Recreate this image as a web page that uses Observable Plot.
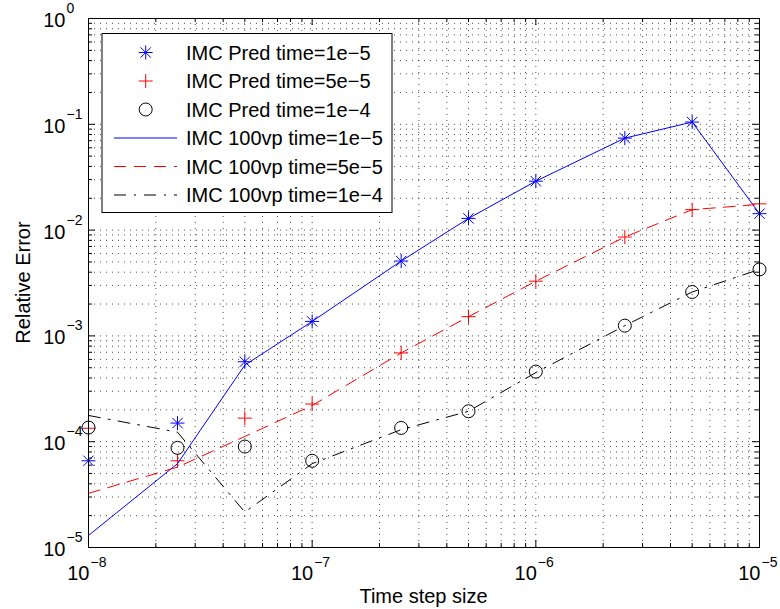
<!DOCTYPE html>
<html>
<head>
<meta charset="utf-8">
<script src="https://cdn.jsdelivr.net/npm/d3@7"></script>
<script src="https://cdn.jsdelivr.net/npm/@observablehq/plot@0.6"></script>
<style>
  body { margin: 0; background: #fff; }
  #chart { width: 780px; height: 609px; }
</style>
</head>
<body>
<div id="chart"></div>
<script>
// Time step sizes shared by every series
const stepSizes = [1e-8, 2.5e-8, 5e-8, 1e-7, 2.5e-7, 5e-7, 1e-6, 2.5e-6, 5e-6, 1e-5];

// Predicted relative error (markers)
const predT1 = [6.6e-5, 1.5e-4, 5.7e-4, 1.37e-3, 5.1e-3, 1.29e-2, 2.9e-2, 7.4e-2, 0.105, 1.43e-2];
const predT2 = [1.34e-4, 6.6e-5, 1.67e-4, 2.27e-4, 6.9e-4, 1.52e-3, 3.29e-3, 8.6e-3, 1.56e-2, 1.77e-2];
const predT3 = [1.36e-4, 8.75e-5, 9.0e-5, 6.6e-5, 1.35e-4, 1.94e-4, 4.6e-4, 1.25e-3, 2.6e-3, 4.25e-3];

// 100vp relative error (lines)
const vpT1 = [1.3e-5, 6.2e-5, 5.3e-4, 1.37e-3, 5.1e-3, 1.29e-2, 2.9e-2, 7.4e-2, 0.105, 1.43e-2];
const vpT2 = [3.25e-5, 5.75e-5, 1.12e-4, 2.2e-4, 6.9e-4, 1.52e-3, 3.29e-3, 8.6e-3, 1.56e-2, 1.75e-2];
const vpT3 = [1.77e-4, 1.23e-4, 2.16e-5, 6.2e-5, 1.3e-4, 1.94e-4, 4.5e-4, 1.25e-3, 2.6e-3, 4.25e-3];

// Axis ticks
const xDecades = [1e-8, 1e-7, 1e-6, 1e-5];
const yDecades = [1e-5, 1e-4, 1e-3, 1e-2, 1e-1, 1];
const minorMultipliers = [2, 3, 4, 5, 6, 7, 8, 9];

const legendLabels = [
  "IMC Pred time=1e\u22125",
  "IMC Pred time=5e\u22125",
  "IMC Pred time=1e\u22124",
  "IMC 100vp time=1e\u22125",
  "IMC 100vp time=5e\u22125",
  "IMC 100vp time=1e\u22124"
];

const minorOf = decades => decades.slice(0, -1).flatMap(d => minorMultipliers.map(m => m * d));
const xMinor = minorOf(xDecades);
const yMinor = minorOf(yDecades);
const xGrid = [...xDecades, ...xMinor];
const yGrid = [...yDecades, ...yMinor];
const xLo = xDecades[0], xHi = xDecades[xDecades.length - 1];
const yLo = yDecades[0], yHi = yDecades[yDecades.length - 1];

const rowsOf = ys => stepSizes.map((x, i) => ({x, y: ys[i]}));

// MATLAB-style stroked markers
const asterisk8 = {
  draw(ctx, size) {
    const r = Math.sqrt(size / Math.PI), s = r * 0.74;
    ctx.moveTo(-r, 0); ctx.lineTo(r, 0);
    ctx.moveTo(0, -r); ctx.lineTo(0, r);
    ctx.moveTo(-s, -s); ctx.lineTo(s, s);
    ctx.moveTo(-s, s); ctx.lineTo(s, -s);
  }
};
const plusMark = {
  draw(ctx, size) {
    const r = Math.sqrt(size / Math.PI);
    ctx.moveTo(-r, 0); ctx.lineTo(r, 0);
    ctx.moveTo(0, -r); ctx.lineTo(0, r);
  }
};
const ringMark = {
  draw(ctx, size) {
    const r = Math.sqrt(size / Math.PI);
    ctx.moveTo(r, 0); ctx.arc(0, 0, r, 0, 2 * Math.PI);
  }
};

const BLUE = "#0000ff", RED = "#ff0000", BLACK = "#000000";
const DASH = "12,8", DASHDOT = "12,8,2,8";

const markerSeries = [
  {data: predT1, color: BLUE, symbol: asterisk8, r: 7},
  {data: predT2, color: RED, symbol: plusMark, r: 7},
  {data: predT3, color: BLACK, symbol: ringMark, r: 6.5}
];
const lineSeries = [
  {data: vpT1, color: BLUE, dash: null},
  {data: vpT2, color: RED, dash: DASH},
  {data: vpT3, color: BLACK, dash: DASHDOT}
];

const expo = d => {
  const e = Math.round(Math.log10(d));
  return e < 0 ? "\u2212" + (-e) : String(e);
};

const MAJOR = 7, MINOR = 4;
const tickRules = (ticks, len) => [
  Plot.ruleX(ticks, {x: d => d, y1: yLo, y2: yLo, insetBottom: len, stroke: BLACK}),
  Plot.ruleX(ticks, {x: d => d, y1: yHi, y2: yHi, insetTop: len, stroke: BLACK})
];
const tickRulesY = (ticks, len) => [
  Plot.ruleY(ticks, {y: d => d, x1: xLo, x2: xLo, insetLeft: len, stroke: BLACK}),
  Plot.ruleY(ticks, {y: d => d, x1: xHi, x2: xHi, insetRight: len, stroke: BLACK})
];

const chart = Plot.plot({
  width: 780,
  height: 609,
  marginLeft: 88,
  marginRight: 21,
  marginTop: 18,
  marginBottom: 62,
  style: {fontFamily: "'Liberation Sans', Arial, sans-serif", background: "#fff", overflow: "visible"},
  x: {type: "log", domain: [xLo, xHi]},
  y: {type: "log", domain: [yLo, yHi]},
  marks: [
    Plot.gridX(xGrid, {stroke: BLACK, strokeOpacity: 0.7, strokeDasharray: "1,5"}),
    Plot.gridY(yGrid, {stroke: BLACK, strokeOpacity: 0.7, strokeDasharray: "1,5"}),
    ...tickRules(xDecades, MAJOR),
    ...tickRules(xMinor, MINOR),
    ...tickRulesY(yDecades, MAJOR),
    ...tickRulesY(yMinor, MINOR),
    Plot.axisX({anchor: "bottom", ticks: xDecades, tickFormat: () => "10", tickSize: 0, tickPadding: 18,
      fontSize: 20, textAnchor: "end", dx: 1, label: null}),
    Plot.axisX({anchor: "bottom", ticks: xDecades, tickFormat: expo, tickSize: 0, tickPadding: 10,
      fontSize: 14, textAnchor: "start", dx: 2, label: null}),
    Plot.axisY({anchor: "left", ticks: yDecades, tickFormat: () => "10", tickSize: 0, tickPadding: 23,
      fontSize: 20, textAnchor: "end", dy: 2, label: null}),
    Plot.axisY({anchor: "left", ticks: yDecades, tickFormat: expo, tickSize: 0, tickPadding: 22,
      fontSize: 14, textAnchor: "start", dy: -10, label: null}),
    ...markerSeries.map(s => Plot.dot(rowsOf(s.data), {
      x: "x", y: "y", symbol: s.symbol, r: s.r, stroke: s.color, fill: "none", strokeWidth: 1
    })),
    ...lineSeries.map(s => Plot.line(rowsOf(s.data), {
      x: "x", y: "y", stroke: s.color, strokeWidth: 1, strokeDasharray: s.dash
    })),
    Plot.frame({stroke: BLACK, strokeWidth: 1})
  ]
});

document.getElementById("chart").appendChild(chart);

// Axis titles and legend
const svg = d3.select(chart);
const font = "'Liberation Sans', Arial, sans-serif";

svg.append("text")
  .attr("x", 423.5).attr("y", 603)
  .attr("text-anchor", "middle")
  .attr("font-family", font).attr("font-size", 20).attr("fill", BLACK)
  .text("Time step size");

svg.append("text")
  .attr("transform", "translate(29.5,282.5) rotate(-90)")
  .attr("text-anchor", "middle")
  .attr("font-family", font).attr("font-size", 20).attr("fill", BLACK)
  .text("Relative Error");

const legend = svg.append("g")
  .attr("font-family", font).attr("font-size", 20).attr("text-anchor", "start");
legend.append("rect")
  .attr("x", 102).attr("y", 33.5).attr("width", 290).attr("height", 179)
  .attr("fill", "#fff").attr("stroke", BLACK).attr("stroke-width", 1);

const entries = [
  ...markerSeries.map(s => ({kind: "marker", ...s})),
  ...lineSeries.map(s => ({kind: "line", ...s}))
];
entries.forEach((e, i) => {
  const cy = 52.5 + i * 28.5;
  if (e.kind === "marker") {
    legend.append("path")
      .attr("transform", `translate(145.7,${cy})`)
      .attr("d", d3.symbol(e.symbol, e.r * e.r * Math.PI)())
      .attr("fill", "none").attr("stroke", e.color).attr("stroke-width", 1);
  } else {
    legend.append("line")
      .attr("x1", 114).attr("x2", 177).attr("y1", cy).attr("y2", cy)
      .attr("stroke", e.color).attr("stroke-width", 1)
      .attr("stroke-dasharray", e.dash);
  }
  legend.append("text")
    .attr("x", 186).attr("y", cy).attr("dy", "0.35em")
    .attr("text-anchor", "start")
    .attr("fill", BLACK)
    .text(legendLabels[i]);
});
</script>
</body>
</html>
